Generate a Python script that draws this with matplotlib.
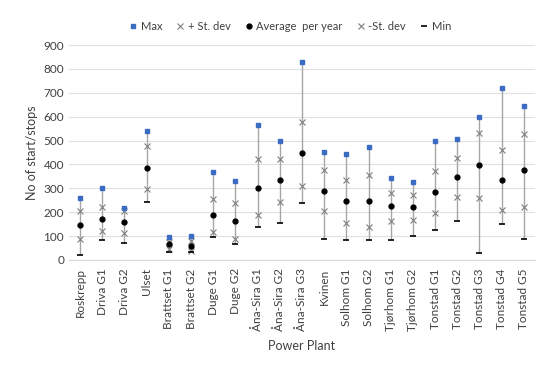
import numpy as np
import matplotlib.pyplot as plt

plt.rcParams['font.family'] = ['Lato', 'DejaVu Sans']

plants = ['Roskrepp', 'Driva G1', 'Driva G2', 'Ulset', 'Brattset G1', 'Brattset G2',
          'Duge G1', 'Duge G2', 'Åna-Sira G1', 'Åna-Sira G2', 'Åna-Sira G3', 'Kvinen',
          'Solhom G1', 'Solhom G2', 'Tjørhom G1', 'Tjørhom G2', 'Tonstad G1', 'Tonstad G2',
          'Tonstad G3', 'Tonstad G4', 'Tonstad G5']
max_vals = [258, 303, 216, 540, 95, 102, 367, 331, 566, 497, 827, 452, 445, 473, 343, 326,
            500, 508, 599, 719, 646]
plus_sd = [204, 220, 205, 477, 75, 80, 255, 239, 423, 423, 578, 377, 334, 356, 282, 273,
           371, 427, 533, 460, 526]
avg_vals = [148, 170, 160, 386, 65, 60, 187, 165, 303, 335, 447, 289, 247, 247, 225, 222,
            285, 346, 396, 336, 375]
minus_sd = [88, 121, 114, 298, 45, 38, 119, 89, 187, 244, 310, 205, 156, 140, 163, 169,
            195, 262, 260, 208, 223]
min_vals = [21, 84, 70, 241, 35, 32, 98, 66, 140, 156, 237, 88, 85, 85, 82, 100,
            126, 165, 31, 151, 89]

x = np.arange(len(plants))

fig = plt.figure(figsize=(5.5, 3.65), dpi=100)
ax = fig.add_axes([0.1255, 0.2877, 0.847, 0.589])

# grey line from min to max
ax.vlines(x, min_vals, max_vals, color='#a6a6a6', lw=1.0, zorder=2)

ax.plot(x, max_vals, 's', color='#3a6cc4', ms=3.5, label='Max', zorder=4)
ax.plot(x, plus_sd, 'x', color='#7f7f7f', ms=4, mew=0.8, label='+ St. dev', zorder=3)
ax.plot(x, avg_vals, 'o', color='black', ms=3.5, label='Average  per year', zorder=4)
ax.plot(x, minus_sd, 'x', color='#7f7f7f', ms=4, mew=0.8, label='-St. dev', zorder=3)
ax.plot(x, min_vals, '_', color='black', ms=4.5, mew=1.2, label='Min', zorder=4)

ax.set_xlim(-0.5, len(plants) - 0.5)
ax.set_ylim(0, 900)
ax.set_yticks(range(0, 901, 100))
ax.set_xticks(x)
ax.set_xticklabels(plants, rotation=90, fontsize=8.5, color='#404040')
ax.tick_params(axis='y', labelsize=8.5, colors='#404040', length=0)
ax.tick_params(axis='x', length=0, pad=6)
ax.grid(axis='y', color='#e0e0e0', lw=0.8)
ax.set_axisbelow(True)
for s in ['top', 'right', 'left']:
    ax.spines[s].set_visible(False)
ax.spines['bottom'].set_color('#d9d9d9')

ax.set_ylabel('No of start/stops', fontsize=9, color='#404040')
ax.set_xlabel('Power Plant', fontsize=9, color='#404040', labelpad=6)

fig.legend(loc='upper center', bbox_to_anchor=(0.527, 0.97), ncol=5, frameon=False,
           fontsize=8, handlelength=0.8, handletextpad=0.3, columnspacing=1.2,
           labelcolor='#404040')

fig.savefig('out.png', dpi=100)
